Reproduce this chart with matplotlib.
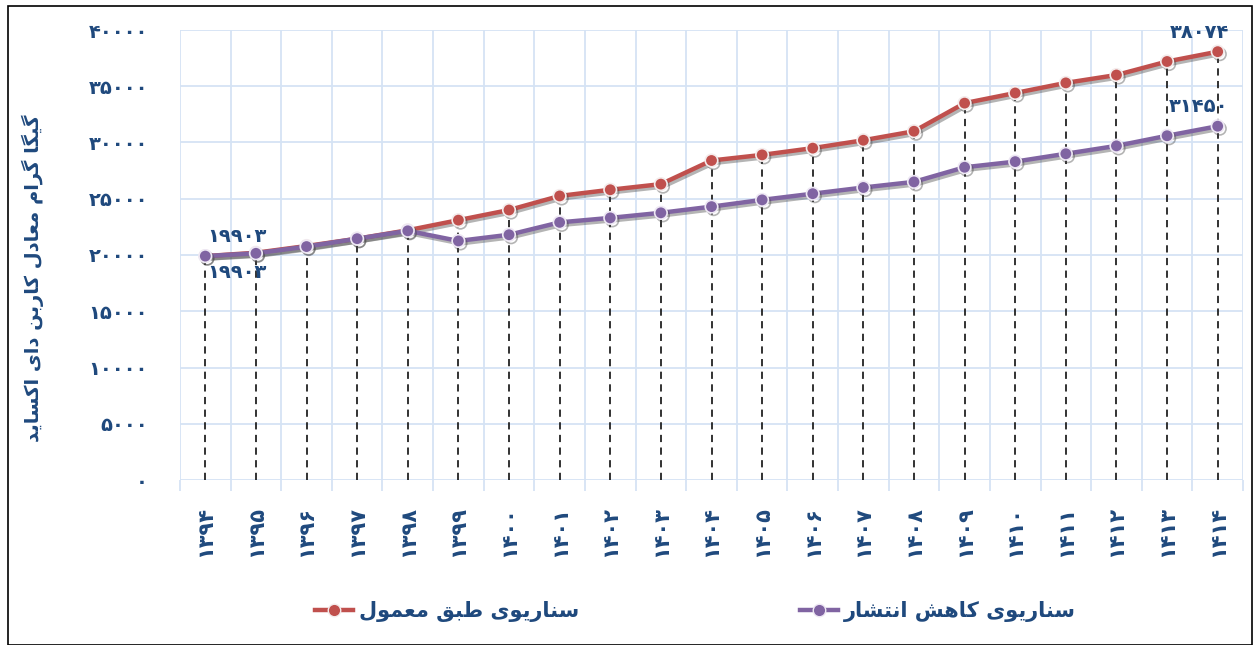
import matplotlib
matplotlib.use("Agg")
import matplotlib.pyplot as plt
import matplotlib.patheffects as pe
from matplotlib.ticker import FixedLocator
from matplotlib.lines import Line2D
from matplotlib.patches import Rectangle

# ---------------- data ----------------
years = list(range(1394, 1415))
usual = [19903, 20200, 20800, 21450, 22200, 23100, 24000, 25250, 25800, 26300,
         28400, 28900, 29500, 30200, 31000, 33500, 34400, 35300, 36000, 37200, 38074]
reduction = [19903, 20150, 20750, 21450, 22150, 21250, 21800, 22900, 23300, 23750,
             24300, 24900, 25450, 26000, 26500, 27800, 28300, 29000, 29700, 30600, 31450]
yticks = list(range(0, 40001, 5000))
legend_usual = "سناریوی طبق معمول"
legend_reduction = "سناریوی کاهش انتشار"
ytitle = "گیگا گرام معادل کاربن دای اکساید"

# --------- minimal Persian shaping (matplotlib has no complex text layout) ---------
FORMS = {  # iso, fin, ini, med
    'ا': ('\uFE8D', '\uFE8E', None, None),
    'د': ('\uFEA9', '\uFEAA', None, None),
    'ر': ('\uFEAD', '\uFEAE', None, None),
    'و': ('\uFEED', '\uFEEE', None, None),
    'ب': ('\uFE8F', '\uFE90', '\uFE91', '\uFE92'),
    'ت': ('\uFE95', '\uFE96', '\uFE97', '\uFE98'),
    'س': ('\uFEB1', '\uFEB2', '\uFEB3', '\uFEB4'),
    'ش': ('\uFEB5', '\uFEB6', '\uFEB7', '\uFEB8'),
    'ط': ('\uFEC1', '\uFEC2', '\uFEC3', '\uFEC4'),
    'ع': ('\uFEC9', '\uFECA', '\uFECB', '\uFECC'),
    'ق': ('\uFED5', '\uFED6', '\uFED7', '\uFED8'),
    'ل': ('\uFEDD', '\uFEDE', '\uFEDF', '\uFEE0'),
    'م': ('\uFEE1', '\uFEE2', '\uFEE3', '\uFEE4'),
    'ن': ('\uFEE5', '\uFEE6', '\uFEE7', '\uFEE8'),
    'ه': ('\uFEE9', '\uFEEA', '\uFEEB', '\uFEEC'),
    'ک': ('\uFB8E', '\uFB8F', '\uFB90', '\uFB91'),
    'گ': ('\uFB92', '\uFB93', '\uFB94', '\uFB95'),
    'ی': ('\uFBFC', '\uFBFD', '\uFBFE', '\uFBFF'),
}


def shape(text):
    out = []
    n = len(text)
    for i, ch in enumerate(text):
        if ch not in FORMS:
            out.append(ch)
            continue
        prev = text[i - 1] if i > 0 else None
        nxt = text[i + 1] if i < n - 1 else None
        join_prev = prev in FORMS and FORMS[prev][2] is not None
        join_next = nxt in FORMS and FORMS[ch][2] is not None
        iso, fin, ini, med = FORMS[ch]
        if join_prev and join_next:
            out.append(med)
        elif join_prev:
            out.append(fin)
        elif join_next:
            out.append(ini)
        else:
            out.append(iso)
    return ''.join(reversed(out))


PDIG = str.maketrans('0123456789', '۰۱۲۳۴۵۶۷۸۹')


def fa(n):
    return str(n).translate(PDIG)


# ---------------- style ----------------
plt.rcParams['font.family'] = ['DejaVu Sans']
TXT = '#1F497D'
RED = '#C0504D'
PURPLE = '#8064A2'
GRID = '#D5E3F4'

fig = plt.figure(figsize=(12.53, 6.45), dpi=100)
ax = fig.add_axes([180 / 1253, 1 - 480 / 645, (1243 - 180) / 1253, 450 / 645])

x = list(range(len(years)))
ax.set_xlim(-0.5, len(years) - 0.5)
ax.set_ylim(0, 40000)

for s in ax.spines.values():
    s.set_visible(False)

# grid
ax.yaxis.set_major_locator(FixedLocator(yticks))
ax.xaxis.set_major_locator(FixedLocator(x))
ax.xaxis.set_minor_locator(FixedLocator([i - 0.5 for i in range(len(years) + 1)]))
ax.grid(axis='y', which='major', color=GRID, lw=1.3, zorder=0)
ax.grid(axis='x', which='minor', color=GRID, lw=1.3, zorder=0)
ax.set_axisbelow(True)
ax.tick_params(axis='x', which='minor', length=8, color=GRID, width=1.3)
ax.tick_params(axis='x', which='major', length=0, pad=19)
ax.tick_params(axis='y', which='major', length=0, pad=23)

ax.set_yticklabels([fa(v) for v in yticks], fontsize=14, fontweight='bold', color=TXT)
ax.set_xticklabels([fa(y) for y in years], rotation=90, fontsize=15,
                   fontweight='bold', color=TXT, va='top')

# drop lines
tops = [max(a, b) for a, b in zip(usual, reduction)]
ax.vlines(x, 0, tops, colors='#222222', linestyles=(0, (4, 3)), lw=1.3, zorder=2)

shadow = [pe.SimpleLineShadow(offset=(1.5, -1.8), shadow_color='#444444', alpha=0.4), pe.Normal()]
ax.plot(x, usual, color=RED, lw=3.2, marker='o', ms=9, mfc=RED, mec='#F4ECEC', mew=1.2,
        zorder=4, path_effects=shadow)
ax.plot(x, reduction, color=PURPLE, lw=3.2, marker='o', ms=9, mfc=PURPLE, mec='#EEE8F4', mew=1.2,
        zorder=5, path_effects=shadow)

ann = dict(fontsize=14, fontweight='bold', color=TXT, ha='center', va='center',
           textcoords='offset points', zorder=7)
ax.annotate(fa(usual[0]), (0, usual[0]), xytext=(23, 14), **ann)
ax.annotate(fa(reduction[0]), (0, reduction[0]), xytext=(23, -12), **ann)
ax.annotate(fa(usual[-1]), (x[-1], usual[-1]), xytext=(-13, 14), **ann)
ax.annotate(fa(reduction[-1]), (x[-1], reduction[-1]), xytext=(-14, 14), **ann)

fig.text(33 / 1253, 1 - 278 / 645, shape(ytitle), rotation=90, ha='center', va='center',
         fontsize=14, fontweight='bold', color=TXT)

h1 = Line2D([], [], color=RED, lw=3.2, marker='o', ms=9, mfc=RED, mec='#F4ECEC')
h2 = Line2D([], [], color=PURPLE, lw=3.2, marker='o', ms=9, mfc=PURPLE, mec='#EEE8F4')
common = dict(loc='center left', frameon=False, handlelength=1.8, handletextpad=0.3,
              borderpad=0, borderaxespad=0, prop={'size': 15, 'weight': 'bold'})
leg1 = fig.legend([h1], [shape(legend_usual)], bbox_to_anchor=(315 / 1253, 1 - 612 / 645), **common)
leg2 = fig.legend([h2], [shape(legend_reduction)], bbox_to_anchor=(800 / 1253, 1 - 612 / 645), **common)
for lg in (leg1, leg2):
    for t in lg.get_texts():
        t.set_color(TXT)

fig.patches.append(Rectangle((8 / 1253, 0), 1 - 9 / 1253, 1 - 6 / 645, transform=fig.transFigure,
                             fill=False, edgecolor='black', lw=1.2))

fig.savefig('out.png', dpi=100)
